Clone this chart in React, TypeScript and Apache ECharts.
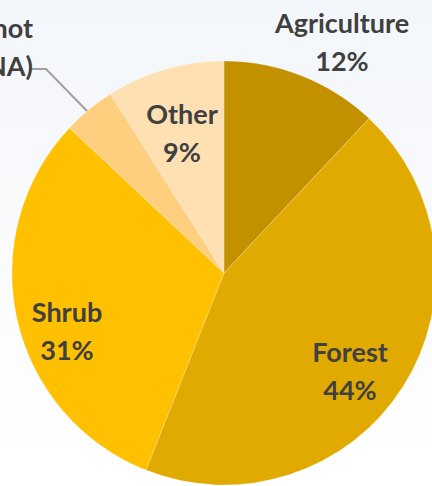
import React, { useEffect, useRef } from "react";
import * as echarts from "echarts";

const categories = ["Agriculture", "Forest", "Shrub", "Data not\navailable (NA)", "Other"];
const shares = [12, 44, 31, 4, 9];
const colors = ["#C39100", "#E1AA00", "#FFC000", "#FFCF80", "#FFE0B3"];

// label anchor positions (pixels) per slice
const labelSpots: { x: number; y: number; align: string }[] = [
  { x: 342, y: 41, align: "center" },
  { x: 350, y: 370, align: "center" },
  { x: 67, y: 330, align: "center" },
  { x: 33, y: 46, align: "right" },
  { x: 182, y: 132, align: "center" },
];

export default function App() {
  const ref = useRef<HTMLDivElement>(null);
  useEffect(() => {
    document.body.style.margin = "0";
    const chart = echarts.init(ref.current!, null, { renderer: "svg" });
    chart.setOption({
      animation: false,
      backgroundColor: new echarts.graphic.LinearGradient(0, 0, 0, 1, [
        { offset: 0, color: "#F3F6FA" },
        { offset: 1, color: "#FFFFFF" },
      ]),
      series: [
        {
          type: "pie",
          center: [224, 273],
          radius: 212,
          startAngle: 90,
          clockwise: true,
          avoidLabelOverlap: false,
          data: categories.map((name, i) => ({
            name,
            value: shares[i],
            itemStyle: { color: colors[i] },
            label: {
              position: i === 3 ? "outside" : "inside",
              formatter: i === 3 ? "{b}" : "{b}\n{c}%",
            },
            labelLine: { show: i === 3 },
          })),
          itemStyle: { borderColor: "rgba(255,255,255,0.35)", borderWidth: 0.6 },
          label: {
            show: true,
            fontFamily: "Lato",
            fontWeight: "bold",
            fontSize: 27,
            lineHeight: 38,
            color: "#404040",
            overflow: "none",
          },
          labelLine: {
            lineStyle: { color: "#A0A0A0", width: 2 },
          },
          labelLayout: (params: any) => {
            const s = labelSpots[params.dataIndex];
            const out: any = {
              x: s.x,
              y: s.y,
              align: s.align,
              verticalAlign: "middle",
              hideOverlap: false,
            };
            if (params.dataIndex === 3) {
              out.labelLinePoints = [
                [88, 112],
                [46, 69],
                [31, 69],
              ];
            }
            return out;
          },
        },
      ],
    });
    return () => chart.dispose();
  }, []);
  return <div ref={ref} style={{ width: 432, height: 486 }} />;
}
